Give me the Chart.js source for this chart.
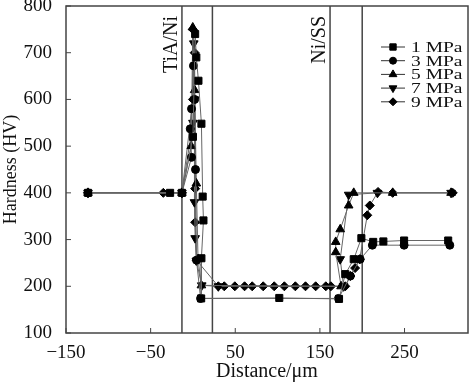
<!DOCTYPE html>
<html>
<head>
<meta charset="utf-8">
<script src="https://cdn.jsdelivr.net/npm/chart.js"></script>
<style>
  body { margin: 0; background: #fff; }
  canvas { display: block; }
</style>
</head>
<body>
<canvas id="myChart" width="474" height="389"></canvas>
<script>
// series: [distance (um), hardness (HV)]
const mpa1 = [[-124, 400], [-27, 400], [-13, 400], [0, 520], [2.6, 740], [4, 690], [6.5, 640], [10, 548],
    [11.5, 392], [12.4, 341], [10, 260], [9.7, 174], [102, 175], [172.6, 173], [180, 226], [190, 258],
    [199, 303], [213, 295], [225, 296], [249.5, 298], [301.6, 298]];
const mpa3 = [[-124, 400], [-13, 400], [-1.7, 476], [-3.2, 537], [-1.7, 580], [0.6, 672], [2, 600],
    [3, 450], [4.2, 256], [9, 174], [172, 174], [186, 222], [197.6, 258], [212, 288], [249.5, 288], [303.5, 288]];
const mpa5 = [[-124, 400], [-13, 400], [-2, 500], [-0.2, 754], [2, 620], [4, 420], [6, 258], [10, 202],
    [175, 200], [168.7, 273], [168.7, 295], [174, 322], [184, 373], [190, 400], [236, 400], [305, 400]];
const mpa7 = [[-124, 400], [-13, 400], [0, 550], [1, 720], [2, 600], [1.8, 380], [2.6, 303], [4, 255],
    [10.4, 202], [30, 200], [178, 200], [174, 258], [184, 396], [218, 400], [305, 400]];
const mpa9 = [[-124, 400], [-35, 400], [-13, 400], [0, 600], [-0.2, 750], [2, 700], [2.6, 409], [2.6, 337],
    [4.2, 256], [30, 200], [37, 200], [49.5, 200], [61, 200], [70, 200], [83, 200], [96, 200], [108, 200],
    [121, 200], [133, 200], [145, 200], [157, 200], [163, 200], [180, 200], [186, 222], [191.6, 239],
    [197, 258], [206, 352], [209, 373], [218.7, 402], [236, 400], [307, 400]];

const seriesNames = ['1 MPa', '3 MPa', '5 MPa', '7 MPa', '9 MPa'];
const xTicks = [-150, -50, 50, 150, 250];
const yTicks = [100, 200, 300, 400, 500, 600, 700, 800];
const interfaces = [-13, 23, 162, 200];
const interfaceNames = ['TiA/Ni', '', 'Ni/SS', ''];

const serif = 'Liberation Serif, Times New Roman, serif';

const markers = [
    { style: 'rect', rot: 0, r: 5 },
    { style: 'circle', rot: 0, r: 4 },
    { style: 'triangle', rot: 0, r: 5 },
    { style: 'triangle', rot: 180, r: 5 },
    { style: 'rectRot', rot: 0, r: 4.5 },
];

const allSeries = [mpa1, mpa3, mpa5, mpa7, mpa9];
const datasets = allSeries.map((s, i) => ({
    label: seriesNames[i],
    data: s.map(p => ({ x: p[0], y: p[1] })),
    showLine: true,
    borderColor: '#666',
    borderWidth: 1,
    pointStyle: markers[i].style,
    pointRotation: markers[i].rot,
    pointRadius: markers[i].r,
    pointBackgroundColor: '#000',
    pointBorderColor: '#000',
    pointBorderWidth: 1,
}));

const decorations = {
    id: 'decorations',
    beforeDatasetsDraw(chart) {
        const ctx = chart.ctx;
        const a = chart.chartArea;
        const x = chart.scales.x;
        ctx.save();
        ctx.strokeStyle = '#444';
        ctx.lineWidth = 1.5;
        interfaces.forEach((v, i) => {
            const px = x.getPixelForValue(v);
            ctx.beginPath();
            ctx.moveTo(px, a.top);
            ctx.lineTo(px, a.bottom);
            ctx.stroke();
            if (interfaceNames[i]) {
                ctx.save();
                ctx.translate(px - 10, a.top + 10);
                ctx.rotate(-Math.PI / 2);
                ctx.fillStyle = '#111';
                ctx.font = '20px ' + serif;
                ctx.textAlign = 'right';
                ctx.textBaseline = 'middle';
                ctx.fillText(interfaceNames[i], 0, 0);
                ctx.restore();
            }
        });
        ctx.restore();
    },
    afterDraw(chart) {
        const ctx = chart.ctx;
        const a = chart.chartArea;
        const x = chart.scales.x;
        const y = chart.scales.y;
        ctx.save();
        ctx.strokeStyle = '#444';
        ctx.lineWidth = 1.5;
        ctx.strokeRect(a.left, a.top, a.right - a.left, a.bottom - a.top);
        ctx.lineWidth = 1;
        ctx.beginPath();
        xTicks.forEach(v => {
            const px = x.getPixelForValue(v);
            ctx.moveTo(px, a.bottom);
            ctx.lineTo(px, a.bottom - 5);
        });
        yTicks.forEach(v => {
            const py = y.getPixelForValue(v);
            ctx.moveTo(a.left, py);
            ctx.lineTo(a.left + 5, py);
        });
        ctx.stroke();

        // legend: line - marker - line, then name (text is wide and short in the original)
        const mx = a.right - 75;
        ctx.font = '15px ' + serif;
        ctx.textBaseline = 'middle';
        datasets.forEach((d, i) => {
            const ly = a.top + 41 + i * 13.7;
            ctx.strokeStyle = '#333';
            ctx.lineWidth = 1;
            ctx.beginPath();
            ctx.moveTo(mx - 12, ly);
            ctx.lineTo(mx + 12, ly);
            ctx.stroke();
            ctx.fillStyle = '#000';
            ctx.strokeStyle = '#000';
            Chart.helpers.drawPoint(ctx, {
                pointStyle: markers[i].style,
                rotation: markers[i].rot,
                radius: markers[i].r - 0.5,
                borderWidth: 1,
            }, mx, ly);
            ctx.save();
            ctx.translate(mx + 18, ly + 1);
            ctx.scale(1.3, 1);
            ctx.fillStyle = '#111';
            ctx.fillText(d.label, 0, 0);
            ctx.restore();
        });
        ctx.restore();
    }
};

const minus = v => String(v).replace('-', '\u2212');

const config = {
    type: 'scatter',
    data: { datasets: datasets },
    options: {
        responsive: false,
        animation: false,
        layout: { padding: { top: 5, right: 2, left: 0, bottom: 0 } },
        plugins: { legend: { display: false }, tooltip: { enabled: false } },
        scales: {
            x: {
                type: 'linear',
                min: -150,
                max: 325,
                afterBuildTicks: s => { s.ticks = xTicks.map(v => ({ value: v })); },
                afterFit: s => { s.height = 56; s.paddingLeft = 0; s.paddingRight = 0; },
                grid: { display: false },
                border: { display: false },
                ticks: { color: '#111', padding: 1, font: { family: serif, size: 19 }, maxRotation: 0, callback: minus },
                title: {
                    display: true,
                    text: 'Distance/μm',
                    color: '#111',
                    font: { family: serif, size: 20 },
                    padding: { top: 0, bottom: 5 },
                },
            },
            y: {
                min: 100,
                max: 800,
                afterBuildTicks: s => { s.ticks = yTicks.map(v => ({ value: v })); },
                afterFit: s => { s.width = 66; s.paddingTop = 0; s.paddingBottom = 0; },
                grid: { display: false },
                border: { display: false },
                ticks: { color: '#111', padding: 6, font: { family: serif, size: 19 } },
                title: {
                    display: true,
                    text: 'Hardness (HV)',
                    color: '#111',
                    font: { family: serif, size: 18 },
                    padding: 0,
                },
            },
        },
    },
    plugins: [decorations],
};

const myChart = new Chart(document.getElementById('myChart'), config);
</script>
</body>
</html>
